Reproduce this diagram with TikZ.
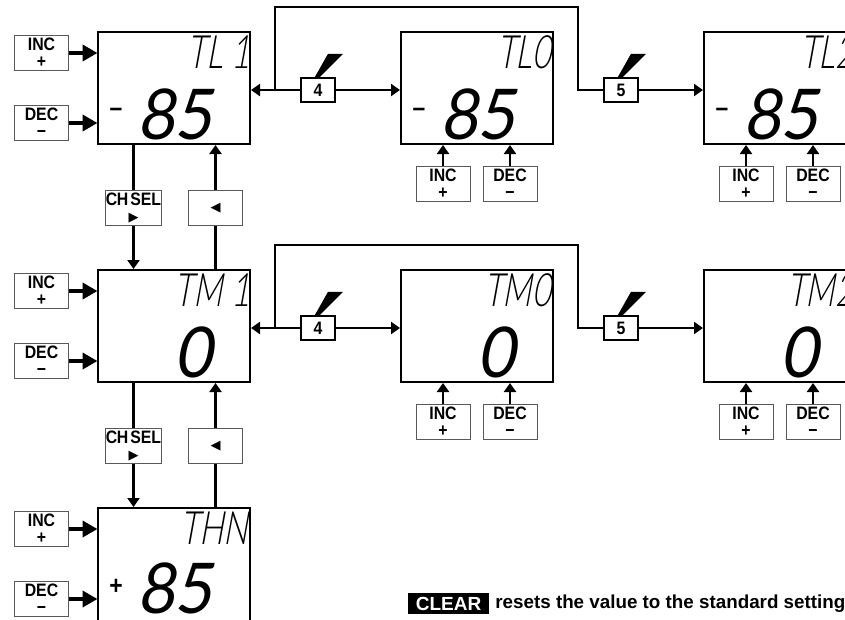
\documentclass[tikz,border=0pt]{standalone}
\usepackage{fontspec}
\setmainfont{Liberation Sans}
\newfontfamily\keyfont[FakeStretch=0.88]{Liberation Sans Bold}
\newfontfamily\lcdfont[FakeSlant=0.18,FakeStretch=0.7]{Lato Light}
\newfontfamily\valfont[FakeSlant=0.18,FakeStretch=0.92]{Lato}
\newfontfamily\symfont{DejaVu Sans}
\usetikzlibrary{arrows.meta,positioning}
\tikzset{
  disp/.style={draw,line width=2pt,minimum width=152pt,minimum height=112pt,inner sep=0pt},
  key/.style={draw=black!65,fill=white,line width=1pt,minimum width=54pt,minimum height=35pt,
    inner sep=0pt,align=center,font=\keyfont\fontsize{18}{17}\selectfont},
  num/.style={draw,fill=white,line width=2.4pt,minimum width=34pt,minimum height=24pt,inner sep=0pt,
    font=\keyfont\fontsize{18}{18}\selectfont},
  nam/.style={anchor=east,inner sep=0pt,font=\lcdfont\fontsize{46}{46}\selectfont},
  val/.style={anchor=east,inner sep=0pt,font=\valfont\fontsize{70}{70}\selectfont},
  sgn/.style={inner sep=0pt,font=\keyfont\fontsize{26}{26}\selectfont},
  lin/.style={line width=2.2pt},
  nyil/.style={lin,-{Triangle[length=9pt,width=12pt]}},
  nagy/.style={line width=4.4pt,-{Triangle[length=15pt,width=16pt]},shorten >=-0.5pt},
}
\newcommand{\lcdkey}[4]{\node[key] (#1) at #2 {#3\\#4};}
\begin{document}
\begin{tikzpicture}[x=1pt,y=-1pt]
  \useasboundingbox (0,0) rectangle (845,619);
  \clip (0,0) rectangle (845,619);
  % the two full rows
  \foreach \r/\y/\v/\s in {L/0/85/–,M/238/0/} {
    \node[disp] (d\r1) at (174,88+\y) {};
    \node[disp] (d\r0) at (477,88+\y) {};
    \node[disp] (d\r2) at (780,88+\y) {};
    \node[nam] at (250,52+\y) {T\r\ 1};
    \node[nam] at (551,52+\y) {T\r 0};
    \node[nam] at (854,52+\y) {T\r 2};
    \node[val] at (212,114+\y) {\v};
    \node[val] at (515,114+\y) {\v};
    \node[val] at (818,114+\y) {\v};
    \node[sgn] at (116,112+\y) {\s};
    \node[sgn] at (419,112+\y) {\s};
    \node[sgn] at (722,112+\y) {\s};
    \node[num] (f\r) at (318,90+\y) {4};
    \node[num] (g\r) at (621,90+\y) {5};
    \coordinate (a\r) at (275,90+\y);
    \coordinate (b\r) at (578,90+\y);
    \draw[nyil] (f\r) -- (f\r -| d\r1.east);
    \draw[nyil] (f\r) -- (f\r -| d\r0.west);
    \draw[lin] (a\r) -- ++(0,-83) -| (b\r) -- (g\r);
    \draw[nyil] (g\r) -- (g\r -| d\r2.west);
    \foreach \k in {f,g}
      \fill (\k\r.north) ++(-3,0) -- ++(13,-23) -- ++(15,0) -- ++(-23,23) -- cycle;
    \foreach \n/\x in {0/443,2/746} {
      \lcdkey{i\r\n}{(\x,184+\y)}{INC}{+}
      \lcdkey{e\r\n}{(\x+67,184+\y)}{DEC}{−}
      \draw[nyil] (i\r\n) -- (i\r\n |- d\r\n.south);
      \draw[nyil] (e\r\n) -- (e\r\n |- d\r\n.south);
    }
  }
  % the bottom display runs off the page
  \node[disp,minimum height=130pt] (dH1) at (174,573) {};
  \node[nam] at (248,528) {THN};
  \node[val] at (212,588) {85};
  \node[sgn] at (116,587) {+};
  % keys on the left
  \foreach \r/\y in {L/0,M/238,H/476} {
    \lcdkey{i\r}{(41.5,53+\y)}{INC}{+}
    \lcdkey{e\r}{(41.5,123+\y)}{DEC}{−}
    \draw[nagy] (i\r) -- (i\r -| d\r1.west);
    \draw[nagy] (e\r) -- (e\r -| d\r1.west);
  }
  % moving between the rows
  \foreach \r/\t/\y in {L/M/0,M/H/238} {
    \node[key] (s\r) at (133.5,208+\y) {C\kern-0.5pt H\kern2pt SEL\\[-1pt]{\symfont\fontsize{13}{13}\selectfont ▶}};
    \node[key] (b\r) at (215.5,208+\y) {{\symfont\fontsize{13}{13}\selectfont ◀}};
    \draw[lin] (s\r |- d\r1.south) -- (s\r);
    \draw[nyil] (s\r) -- (s\r |- d\t1.north);
    \draw[lin] (b\r |- d\t1.north) -- (b\r);
    \draw[nyil] (b\r) -- (b\r |- d\r1.south);
  }
  \node[fill=black,text=white,inner sep=0pt,minimum width=81pt,minimum height=21pt,
    font=\bfseries\fontsize{19}{19}\selectfont] (clr) at (448.5,603.5) {CLEAR};
  \node[right=6pt of clr,inner sep=0pt,font=\bfseries\fontsize{18.8}{19}\selectfont] (txt) {resets the value to the standard setting};
\end{tikzpicture}
\end{document}
